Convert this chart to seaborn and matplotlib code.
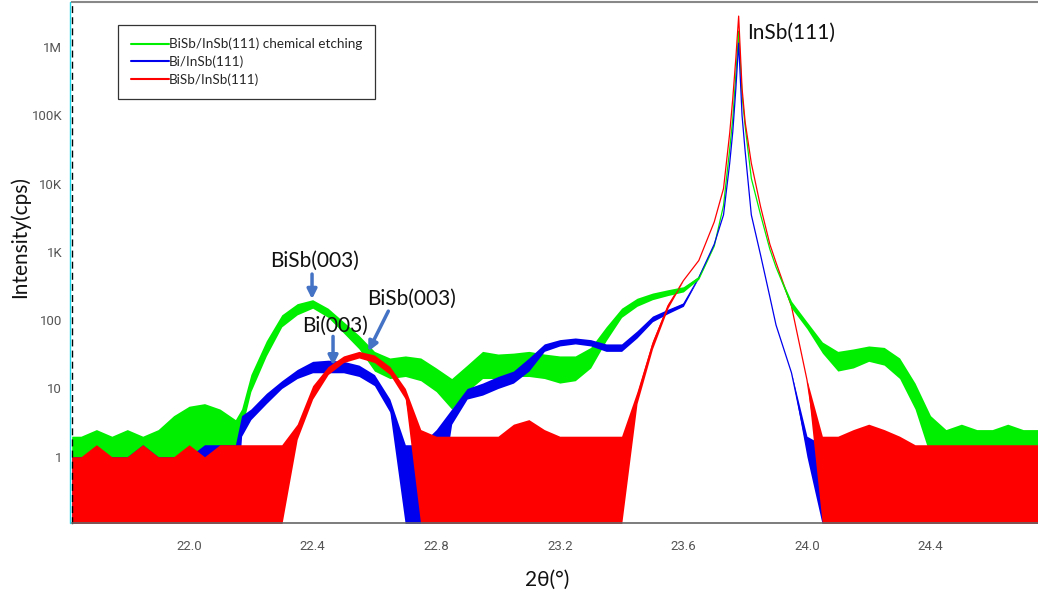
import numpy as np
import pandas as pd
import matplotlib
matplotlib.use("Agg")
import matplotlib.pyplot as plt
import matplotlib.transforms as mtransforms
from matplotlib.lines import Line2D
from matplotlib.ticker import FixedLocator, FixedFormatter, NullLocator
import seaborn as sns

# ---------------- data ----------------
two_theta = [21.62, 21.65, 21.70, 21.75, 21.80, 21.85, 21.90, 21.95, 22.00, 22.05,
             22.10, 22.15, 22.17, 22.20, 22.25, 22.30, 22.35, 22.40, 22.45, 22.50,
             22.55, 22.60, 22.65, 22.70, 22.75, 22.80, 22.85, 22.90, 22.95, 23.00,
             23.05, 23.10, 23.15, 23.20, 23.25, 23.30, 23.35, 23.40, 23.45, 23.50,
             23.55, 23.60, 23.65, 23.70, 23.73, 23.75, 23.76, 23.77, 23.779, 23.79,
             23.80, 23.82, 23.85, 23.88, 23.90, 23.95, 24.00, 24.05, 24.10, 24.15,
             24.20, 24.25, 24.30, 24.35, 24.40, 24.45, 24.50, 24.55, 24.60, 24.65,
             24.70, 24.75]

# lower / upper edge of the noisy trace (cps); 0.1 = at or below the axis floor
etched_lo = [0.1, 0.1, 0.5, 0.5, 0.1, 0.5, 0.5, 0.5, 1, 0.5,
             1, 0.5, 2.5, 9, 30, 80, 120, 150, 110, 65,
             38, 18, 14, 15, 13, 9, 5, 9, 14, 14,
             15, 15, 14, 12, 13, 20, 50, 110, 160, 200,
             230, 260, 400, 1220, 4800, 32000, 90000, 400000, 1720000, 200000,
             70000, 12000, 3500, 1100, 600, 150, 75, 33, 18, 20,
             25, 22, 14, 5, 1, 1, 0.5, 1, 0.5, 1,
             0.5, 1]
etched_hi = [2, 2, 2.5, 2, 2.5, 2, 2.5, 4, 5.5, 6,
             5, 3.5, 5, 16, 50, 120, 175, 200, 150, 95,
             60, 35, 28, 30, 28, 20, 14, 22, 35, 32,
             33, 35, 32, 30, 30, 40, 80, 150, 210, 250,
             280, 310, 440, 1220, 4800, 32000, 90000, 400000, 1720000, 200000,
             70000, 12000, 3500, 1100, 600, 190, 95, 48, 35, 38,
             42, 40, 28, 12, 4, 2.5, 3, 2.5, 2.5, 3,
             2.5, 2.5]

bi_lo = [0.1, 0.1, 0.1, 0.1, 0.1, 0.1, 0.1, 0.1, 0.1, 0.1,
         0.1, 0.1, 2, 3.5, 6, 10, 14, 17, 17, 17,
         15, 11, 4.5, 0.1, 0.1, 0.1, 3, 7, 8, 10,
         12, 18, 35, 42, 45, 42, 35, 35, 55, 95,
         125, 160, 420, 1300, 3500, 20000, 58000, 250000, 1150000, 100000,
         30000, 3500, 900, 220, 85, 17, 1, 0.1, 0.1, 0.1,
         0.1, 0.1, 0.1, 0.1, 0.1, 0.1, 0.1, 0.1, 0.1, 0.1,
         0.1, 0.1]
bi_hi = [1, 1, 1, 1, 1, 1.5, 1, 1, 1, 1.5,
         1.5, 1.5, 4, 5, 8.5, 13, 19, 25, 26, 25,
         22, 16, 7, 1.5, 1.5, 2.5, 5, 10, 12, 15,
         18, 28, 45, 52, 55, 52, 45, 45, 70, 115,
         145, 180, 420, 1300, 3500, 20000, 58000, 250000, 1150000, 100000,
         30000, 3500, 900, 220, 85, 17, 2, 1.5, 1, 1,
         1, 1, 1, 1, 1, 1, 1, 1, 1, 1,
         1, 1]

bisb_lo = [0.1, 0.1, 0.1, 0.1, 0.1, 0.1, 0.1, 0.1, 0.1, 0.1,
           0.1, 0.1, 0.1, 0.1, 0.1, 0.1, 1.8, 7, 16, 24,
           28, 24, 16, 7, 0.1, 0.1, 0.1, 0.1, 0.1, 0.1,
           0.1, 0.1, 0.1, 0.1, 0.1, 0.1, 0.1, 0.1, 6, 38,
           150, 380, 750, 2760, 8500, 55000, 178000, 700000, 2860000, 250000,
           80000, 20000, 4600, 1300, 700, 160, 13.5, 0.1, 0.1, 0.1,
           0.1, 0.1, 0.1, 0.1, 0.1, 0.1, 0.1, 0.1, 0.1, 0.1,
           0.1, 0.1]
bisb_hi = [1, 1, 1.5, 1, 1, 1.5, 1, 1, 1.5, 1,
           1.5, 1.5, 1.5, 1.5, 1.5, 1.5, 3, 11, 21, 30,
           35, 31, 21, 10, 2.5, 2, 2, 2, 2, 2,
           3, 3.5, 2.5, 2, 2, 2, 2, 2, 9, 50,
           175, 380, 750, 2760, 8500, 55000, 178000, 700000, 2860000, 250000,
           80000, 20000, 4600, 1300, 700, 160, 13.5, 2, 2, 2.5,
           3, 2.5, 2, 1.5, 1.5, 1.5, 1.5, 1.5, 1.5, 1.5,
           1.5, 1.5]

series_names = ["BiSb/InSb(111) chemical etching", "Bi/InSb(111)", "BiSb/InSb(111)"]
series_colors = ["#00ee00", "#0000ee", "#ff0000"]

y_tick_values = [1, 10, 100, 1e3, 1e4, 1e5, 1e6]
y_tick_labels = ["1", "10", "100", "1K", "10K", "100K", "1M"]
x_tick_values = [22.0, 22.4, 22.8, 23.2, 23.6, 24.0, 24.4]
x_tick_labels = ["22.0", "22.4", "22.8", "23.2", "23.6", "24.0", "24.4"]
x_minor_values = [21.8, 22.2, 22.6, 23.0, 23.4, 23.8, 24.2, 24.6]

# ---------------- long-form table ----------------
rows = []
for name, lo, hi in zip(series_names, [etched_lo, bi_lo, bisb_lo], [etched_hi, bi_hi, bisb_hi]):
    for x, a, b in zip(two_theta, lo, hi):
        rows.append((x, name, a))
        rows.append((x, name, b))
df = pd.DataFrame(rows, columns=["two_theta", "series", "intensity"])

# ---------------- figure ----------------
sns.set_style("white")
plt.rcParams["font.family"] = ["Lato", "DejaVu Sans"]

fig = plt.figure(figsize=(10.38, 6), dpi=100)
ax = fig.add_axes([72 / 1038, 77 / 600, 966 / 1038, 521 / 600])
ax.set_yscale("log")
ax.set_xlim(21.621, 24.748)
ax.set_ylim(0.107, 4.6e6)

sns.lineplot(data=df, x="two_theta", y="intensity", hue="series",
             hue_order=series_names, palette=series_colors,
             estimator="mean", errorbar=("pi", 100),
             err_kws={"alpha": 1.0, "linewidth": 0, "zorder": 1},
             linewidth=0.9, zorder=0.9, legend=False, ax=ax)
ax.set_xlim(21.621, 24.748)
ax.set_ylim(0.107, 4.6e6)
ax.set_xlabel("")
ax.set_ylabel("")

# ticks
ax.yaxis.set_major_locator(FixedLocator(y_tick_values))
ax.yaxis.set_major_formatter(FixedFormatter(y_tick_labels))
ax.yaxis.set_minor_locator(NullLocator())
ax.xaxis.set_major_locator(FixedLocator(x_tick_values))
ax.xaxis.set_major_formatter(FixedFormatter(x_tick_labels))
ax.xaxis.set_minor_locator(FixedLocator(x_minor_values))
ax.tick_params(axis="both", which="both", direction="out", colors="#555555",
               labelsize=9.5, length=6, width=1)
ax.tick_params(axis="x", pad=6)
ax.tick_params(axis="y", length=5, pad=2)
for lab in ax.get_xticklabels() + ax.get_yticklabels():
    lab.set_family(["Roboto", "DejaVu Sans"])

# spines
ax.spines["right"].set_visible(False)
ax.spines["top"].set_color("#888888")
ax.spines["top"].set_linewidth(1.5)
ax.spines["bottom"].set_color("#666666")
ax.spines["bottom"].set_linewidth(1.2)
ax.spines["left"].set_color("black")
ax.spines["left"].set_linestyle((0, (4, 4)))
ax.spines["left"].set_linewidth(1.0)
cyan_tr = mtransforms.offset_copy(ax.transAxes, fig=fig, x=-1.5, y=0, units="dots")
ax.plot([0, 0], [0, 1], transform=cyan_tr, color="#22d8e8", lw=1.0, clip_on=False, zorder=5)

# legend
handles = [Line2D([0], [0], color=c, lw=1.5) for c in series_colors]
leg = ax.legend(handles, series_names, loc="upper left",
                bbox_to_anchor=(0.0476, 0.956), borderaxespad=0,
                frameon=True, fancybox=False, edgecolor="black",
                handlelength=2.8, handletextpad=0.05, labelspacing=0.4,
                borderpad=0.95, fontsize=9.7)
leg.get_frame().set_linewidth(0.9)

# annotations
txt_kw = dict(fontsize=15, color="#111111", family=["Lato", "DejaVu Sans"])
arrow_kw = dict(arrowstyle="-|>", color="#4472c4", lw=2.5, mutation_scale=14,
                shrinkA=0, shrinkB=0)
ax.text(23.807, 1.61e6, "InSb(111)", ha="left", va="center", **txt_kw)
ax.text(22.405, 737, "BiSb(003)", ha="center", va="center", **txt_kw)
ax.annotate("", xy=(22.398, 204), xytext=(22.398, 475), arrowprops=arrow_kw)
ax.text(22.719, 204, "BiSb(003)", ha="center", va="center", **txt_kw)
ax.annotate("", xy=(22.580, 35), xytext=(22.645, 136), arrowprops=arrow_kw)
ax.text(22.473, 81.6, "Bi(003)", ha="center", va="center", **txt_kw)
ax.annotate("", xy=(22.466, 21.8), xytext=(22.466, 58), arrowprops=arrow_kw)

# axis titles
fig.text(20 / 1038, 1 - 237 / 600, "Intensity(cps)", rotation=90, ha="center",
         va="center", fontsize=15, color="#111111")
fig.text(547 / 1038, 1 - 580 / 600, "2θ(°)", ha="center", va="center",
         fontsize=15, color="#111111")

fig.savefig("out.png", dpi=100)
